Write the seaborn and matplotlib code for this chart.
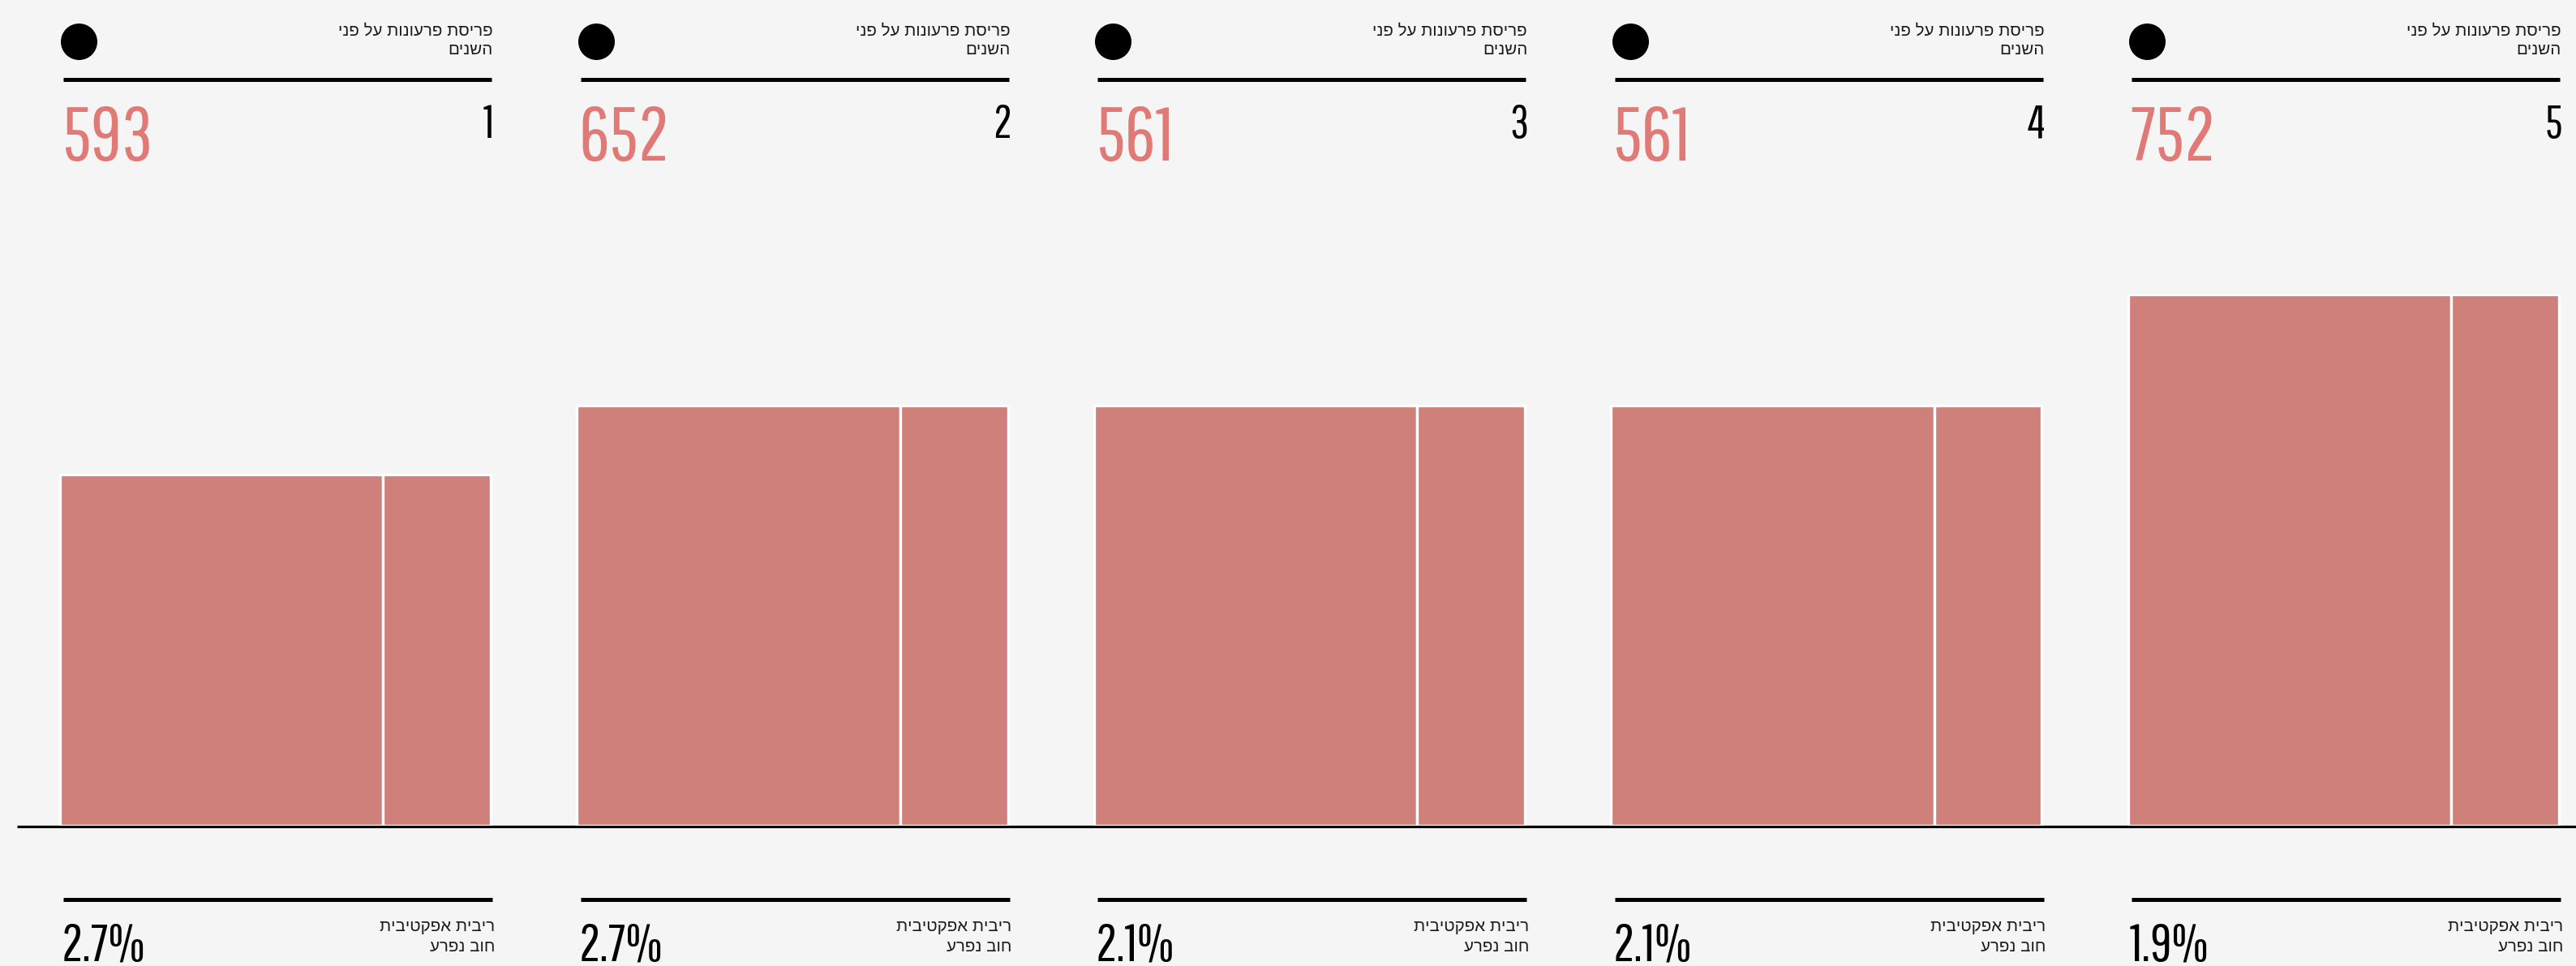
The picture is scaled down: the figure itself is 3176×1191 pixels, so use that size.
import numpy as np
import pandas as pd
import matplotlib
matplotlib.use("Agg")
import matplotlib.pyplot as plt
import seaborn as sns

# data
panel_ids = ["1", "2", "3", "4", "5"]
payments = ["593", "652", "561", "561", "752"]
rates = ["2.7%", "2.7%", "2.1%", "2.1%", "1.9%"]
bar_heights = [66, 79, 79, 79, 100]  # relative bar height (tallest = 100)
split_share = 0.75  # share of the wide segment in each bar

header_lines = ["פריסת פרעונות על פני", "השנים"]
footer_lines = ["ריבית אפקטיבית", "חוב נפרע"]

# colours
bg = "#f5f5f5"
bar_color = "#d0807a"
num_color = "#e07a76"
text_color = "#1a1a1a"

sns.set_theme(style="white")
plt.rcParams["font.family"] = ["Liberation Sans", "Arimo", "DejaVu Sans"]
num_font = ["Pathway Gothic One", "Barlow Condensed", "DejaVu Sans"]


def vis(line):
    # matplotlib has no bidi support, so feed the Hebrew in visual order
    return line[::-1]


W, H = 3176, 1191
fig = plt.figure(figsize=(W / 100, H / 100), dpi=100, facecolor=bg)

# overlay in pixel coordinates for rules, dots and labels
ov = fig.add_axes([0, 0, 1, 1], zorder=0)
ov.set_xlim(0, W)
ov.set_ylim(H, 0)
ov.axis("off")
ov.patch.set_alpha(0)

# size the Hebrew labels so the first header line is ~190 px wide
renderer = fig.canvas.get_renderer()
probe = ov.text(0, 0, vis(header_lines[0]), fontsize=10)
heb_size = 10 * 190 / probe.get_window_extent(renderer).width
probe.remove()

step = 637.5
left0 = 74
bar_w = 531

# baseline
ov.plot([21, W], [1019, 1019], color="black", lw=2.3, solid_capstyle="butt")

for i in range(len(panel_ids)):
    L = left0 + step * i
    ov.scatter([L + 23], [51], s=1050, color="black", linewidths=0)
    ov.plot([L + 4, L + 532], [98, 98], color="black", lw=3.6, solid_capstyle="butt")
    for line, yb in zip(header_lines, [44, 67]):
        ov.text(L + 534, yb, vis(line), ha="right", va="baseline",
                fontsize=heb_size, color=text_color)
    ov.text(L + 2, 198, payments[i], ha="left", va="baseline",
            fontsize=68, color=num_color, family=num_font)
    ov.text(L + 535, 170, panel_ids[i], ha="right", va="baseline",
            fontsize=41, color="black", family=num_font)

    ov.plot([L + 4, L + 533], [1109, 1109], color="black", lw=3.6, solid_capstyle="butt")
    ov.text(L + 2, 1184, rates[i], ha="left", va="baseline",
            fontsize=47, color="black", family=num_font)
    for line, yb in zip(footer_lines, [1148, 1173]):
        ov.text(L + 536, yb, vis(line), ha="right", va="baseline",
                fontsize=heb_size, color=text_color)

# bars: one histogram with two unequal bins per panel
unit = step
bw = bar_w / unit
edges, centers, weights = [], [], []
for i, h in enumerate(bar_heights):
    a, b, c = i, i + bw * split_share, i + bw
    edges += [a, b, c]
    centers += [(a + b) / 2, (b + c) / 2]
    weights += [h, h]
df = pd.DataFrame({"x": centers, "w": weights})

y0 = (H - 1018) / H
y1 = (H - 362.6) / H
axb = fig.add_axes([0, y0, 1, y1 - y0], zorder=1)
axb.patch.set_alpha(0)
sns.histplot(data=df, x="x", weights="w", bins=edges, ax=axb, stat="count",
             color=bar_color, alpha=1, edgecolor="white", linewidth=2.4)
for p in list(axb.patches):
    if p.get_height() == 0:
        p.remove()
axb.set_xlim(-left0 / unit, (W - left0) / unit)
axb.set_ylim(0, 100)
axb.axis("off")

fig.savefig("out.png", dpi=100, facecolor=bg)
